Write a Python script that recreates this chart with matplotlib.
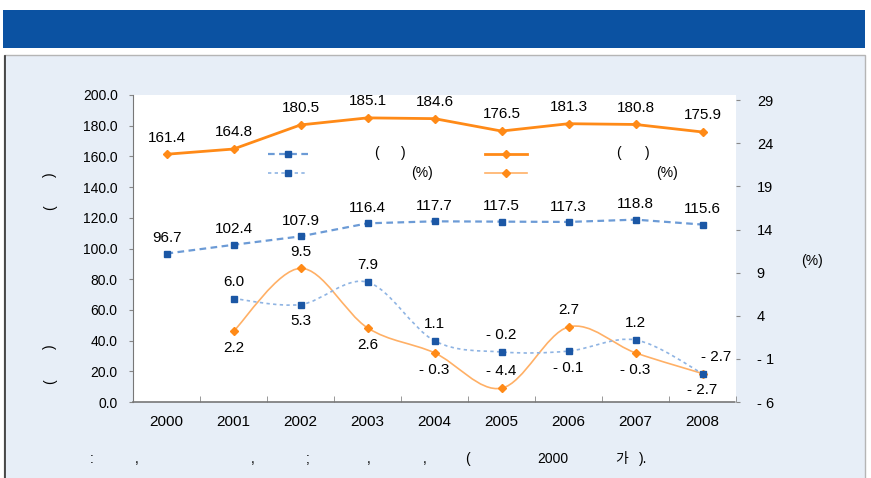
import numpy as np
import matplotlib
matplotlib.use("Agg")
import matplotlib.pyplot as plt
from matplotlib.path import Path
from matplotlib.patches import PathPatch, Rectangle

plt.rcParams['font.family'] = ['Liberation Sans', 'Noto Sans CJK KR', 'DejaVu Sans']

years = ['2000', '2001', '2002', '2003', '2004', '2005', '2006', '2007', '2008']
orange_level = [161.4, 164.8, 180.5, 185.1, 184.6, 176.5, 181.3, 180.8, 175.9]
blue_level = [96.7, 102.4, 107.9, 116.4, 117.7, 117.5, 117.3, 118.8, 115.6]
# growth rates (right axis), from 2001
blue_growth = [6.0, 5.3, 7.9, 1.1, -0.2, -0.1, 1.2, -2.7]
orange_growth = [2.2, 9.5, 2.6, -0.3, -4.4, 2.7, -0.3, -2.7]

left_ticks = [0, 20, 40, 60, 80, 100, 120, 140, 160, 180, 200]
right_ticks = [-6, -1, 4, 9, 14, 19, 24, 29]

# label placement: 1 above, -1 below
blue_growth_pos = [1, -1, 1, 1, 1, -1, 1, 1]
orange_growth_pos = [-1, 1, -1, -1, 1, 1, -1, -1]

ORANGE = '#FF8A17'
ORANGE_LIGHT = '#FFB066'
BLUE_DARK = '#1B57A5'
BLUE_LINE = '#6C9BD6'
BLUE_LIGHT = '#8FB4E3'

W, H = 871, 478


def px(x, y):
    return x / W, 1 - y / H


def fmt(v):
    return f'- {abs(v):.1f}' if v < 0 else f'{v:.1f}'


def smooth_path(xs, ys):
    # catmull-rom -> cubic bezier (like excel's smoothed line)
    pts = np.column_stack([xs, ys]).astype(float)
    verts = [pts[0]]
    codes = [Path.MOVETO]
    n = len(pts)
    for i in range(n - 1):
        p0 = pts[i - 1] if i > 0 else pts[i]
        p1 = pts[i]
        p2 = pts[i + 1]
        p3 = pts[i + 2] if i + 2 < n else pts[i + 1]
        c1 = p1 + (p2 - p0) / 6.0
        c2 = p2 - (p3 - p1) / 6.0
        verts += [c1, c2, p2]
        codes += [Path.CURVE4] * 3
    return Path(verts, codes)


fig = plt.figure(figsize=(W / 100, H / 100), dpi=100)
fig.patch.set_facecolor('white')

# title bar and panel
fig.patches.append(Rectangle(px(3, 48), 862 / W, 38 / H, transform=fig.transFigure,
                             facecolor='#0B52A2', edgecolor='none', zorder=-10))
fig.patches.append(Rectangle(px(4, 480), 861 / W, 425 / H, transform=fig.transFigure,
                             facecolor='#E7EEF7', edgecolor='#B5B5B5', lw=1, zorder=-10))
fig.add_artist(plt.Line2D([5 / W, 5 / W], [0, 1 - 56 / H], color='#333333', lw=1.2, zorder=-5))

ax = fig.add_axes([133 / W, 1 - 402 / H, (736 - 133) / W, (402 - 95) / H])
ax2 = ax.twinx()
ax.set_zorder(1)
ax2.set_zorder(2)
ax.set_facecolor('white')
ax2.patch.set_visible(False)

x = np.arange(len(years))
xg = x[1:]

ax.set_xlim(-0.5, len(years) - 0.5)
ax.set_ylim(0, 200)
ax2.set_ylim(-6, 29.6)

# top orange level
ax.plot(x, orange_level, color=ORANGE, lw=2, marker='D', ms=4.5, zorder=4)
for xi, v in zip(x, orange_level):
    ax.annotate(fmt(v), (xi, v), xytext=(0, 7), textcoords='offset points',
                ha='center', va='bottom', fontsize=11)

# blue level
ax.plot(x, blue_level, color=BLUE_LINE, lw=1.6, ls=(0, (3, 2)), marker='s', ms=4.5,
        mfc=BLUE_DARK, mec=BLUE_DARK, zorder=4)
for xi, v in zip(x, blue_level):
    ax.annotate(fmt(v), (xi, v), xytext=(0, 6), textcoords='offset points',
                ha='center', va='bottom', fontsize=11)

# growth lines (right axis), smoothed
ax2.add_patch(PathPatch(smooth_path(xg, orange_growth), fill=False, edgecolor=ORANGE_LIGHT,
                        lw=1.2, zorder=3))
ax2.plot(xg, orange_growth, ls='none', marker='D', ms=4.5, color=ORANGE, zorder=4)
ax2.add_patch(PathPatch(smooth_path(xg, blue_growth), fill=False, edgecolor=BLUE_LIGHT,
                        lw=1.2, ls=(0, (2, 2)), zorder=3))
ax2.plot(xg, blue_growth, ls='none', marker='s', ms=4.5, color=BLUE_DARK, zorder=4)

for xi, v, p in zip(xg, blue_growth, blue_growth_pos):
    dx = 10 if xi == 8 else 0
    ax2.annotate(fmt(v), (xi, v), xytext=(dx, 7 * p), textcoords='offset points',
                 ha='center', va='bottom' if p > 0 else 'top', fontsize=11)
for xi, v, p in zip(xg, orange_growth, orange_growth_pos):
    ax2.annotate(fmt(v), (xi, v), xytext=(0, 7 * p), textcoords='offset points',
                 ha='center', va='bottom' if p > 0 else 'top', fontsize=11)

# axes styling
ax.set_yticks(left_ticks)
ax.set_yticklabels([f'{t:.1f}' for t in left_ticks], fontsize=10)
ax2.set_yticks(right_ticks)
ax2.set_yticklabels([f'- {abs(t)}' if t < 0 else str(t) for t in right_ticks], fontsize=10.5)
ax.set_xticks(x)
ax.set_xticklabels(years, fontsize=11)
ax.set_xticks(np.arange(-0.5, len(years), 1), minor=True)
ax.tick_params(axis='x', which='major', length=0, pad=9)
ax.tick_params(axis='x', which='minor', direction='in', length=4, color='#888888')
ax.tick_params(axis='y', length=3, color='#888888', pad=8)
ax2.tick_params(axis='y', length=3, color='#888888', pad=12)
for s in ['top', 'right']:
    ax.spines[s].set_visible(False)
for s in ['top', 'right', 'left', 'bottom']:
    ax2.spines[s].set_visible(False)
ax.spines['left'].set_linestyle((0, (1, 1)))
ax.spines['left'].set_color('#777777')
ax.spines['bottom'].set_linestyle((0, (1, 1)))
ax.spines['bottom'].set_color('#777777')
ax.spines['bottom'].set_linewidth(1.2)

# legend drawn by hand
def legend_line(x0, x1, y, color, mcolor, marker, ls, lw):
    fx0, fy = px(x0, y)
    fx1, _ = px(x1, y)
    fig.add_artist(plt.Line2D([fx0, fx1], [fy, fy], color=color, ls=ls, lw=lw, zorder=5))
    fig.add_artist(plt.Line2D([(fx0 + fx1) / 2], [fy], marker=marker, ms=4.5,
                              color=mcolor, ls='none', zorder=5))

legend_line(268, 308, 154, BLUE_LINE, BLUE_DARK, 's', (0, (3, 2)), 1.6)
legend_line(268, 308, 173, BLUE_LIGHT, BLUE_DARK, 's', (0, (2, 2)), 1.2)
legend_line(485, 527, 154, ORANGE, ORANGE, 'D', '-', 2)
legend_line(485, 527, 173, ORANGE_LIGHT, ORANGE, 'D', '-', 1.2)
for tx, ty, s in [(376, 153, '('), (403, 153, ')'), (422, 173, '(%)'),
                  (618, 153, '('), (647, 153, ')'), (667, 173, '(%)')]:
    fig.text(*px(tx, ty), s, ha='center', va='center', fontsize=10, zorder=5)

# axis titles (only brackets visible)
for ty in (175, 347):
    fig.text(*px(50, ty), ')', rotation=90, ha='center', va='center', fontsize=10)
for ty in (208, 382):
    fig.text(*px(50, ty), '(', rotation=90, ha='center', va='center', fontsize=10)
fig.text(*px(812, 261), '(%)', ha='center', va='center', fontsize=10)

# source line
for tx, s in [(92, ':'), (137, ','), (253, ','), (308, ';'), (369, ','), (425, ','),
              (467, '('), (553, '2000'), (622, '가'), (643, ').')]:
    fig.text(*px(tx, 459), s, ha='center', va='center', fontsize=10)

fig.savefig('out.png', dpi=100)
